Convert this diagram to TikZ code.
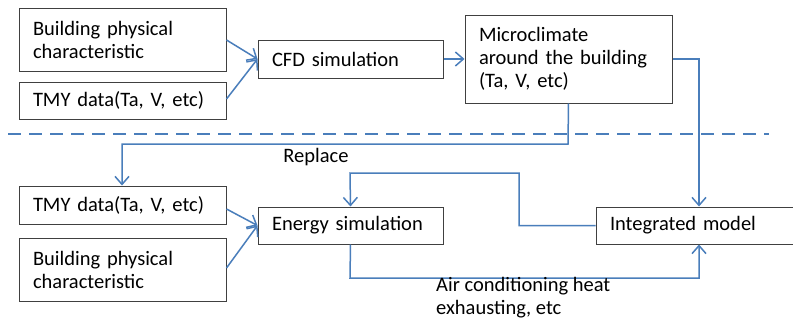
\documentclass[tikz,border=0pt]{standalone}
\usepackage{fontspec}
\setmainfont{Carlito}
\usetikzlibrary{arrows.meta}
\definecolor{lineblue}{RGB}{74,126,187}
\definecolor{boxgray}{RGB}{64,64,64}
\tikzset{
  box/.style={draw=boxgray, line width=1pt, inner xsep=14pt, inner ysep=0pt,
    align=left, font=\fontsize{20.5}{23}\selectfont, anchor=center},
  conn/.style={draw=lineblue, line width=1.5pt},
  arr/.style={conn, -{Straight Barb[length=8pt,width=14pt,line width=1.5pt]}},
  lbl/.style={font=\fontsize{20.5}{23}\selectfont, align=left, inner sep=0pt}
}
\begin{document}
\begin{tikzpicture}[x=1pt,y=-1pt]
\useasboundingbox (0,0) rectangle (793,324);
\fill[white] (0,0) rectangle (793,324);
\begin{scope}
\clip (0,0) rectangle (793,324);
% top row
\node[box, minimum width=207pt, minimum height=63pt, text width=179pt] (b1) at (122.5,39.5) {Building physical\\characteristic};
\node[box, minimum width=207pt, minimum height=37pt, text width=179pt] (t1) at (122.5,100.5) {TMY data(Ta, V, etc)};
\node[box, minimum width=185pt, minimum height=38pt, text width=157pt] (cfd) at (350.5,59) {CFD simulation};
\node[box, minimum width=207pt, minimum height=88pt, text width=179pt] (mic) at (568.5,59) {Microclimate\\around the building\\(Ta, V, etc)};
% bottom row
\node[box, minimum width=207pt, minimum height=38pt, text width=179pt] (t2) at (122.5,205) {TMY data(Ta, V, etc)};
\node[box, minimum width=207pt, minimum height=63pt, text width=179pt] (b2) at (122.5,269.5) {Building physical\\characteristic};
\node[box, minimum width=185pt, minimum height=37pt, text width=157pt] (en) at (350.5,225.5) {Energy simulation};
\node[box, minimum width=210pt, minimum height=37pt, text width=182pt] (int) at (701,225.5) {Integrated model};
\end{scope}
% dashed separator
\coordinate (dl) at (8,134);
\coordinate (dr) at (769,134);
\draw[conn, dash pattern=on 13pt off 8pt] (dl) -- (dr);
% connectors top
\draw[arr] (b1.east |- 0,40) -- (cfd.west);
\draw[arr] (t1.east |- 0,99) -- (cfd.west);
\draw[arr] (cfd.east) -- (mic.west);
% replace
\draw[arr] (mic.south) -- (568,144) -- (122,144) -- (t2.north -| 122,0);
\node[lbl] (rep) at (316,157) {Replace};
% microclimate to integrated
\draw[arr] (mic.east) -- (699,59) -- (int.north -| 699,0);
% inputs to energy simulation
\draw[arr] (t2.east |- 0,209) -- (en.west);
\draw[arr] (b2.east |- 0,268) -- (en.west);
% feedback
\draw[arr] (int.west) -- (519,225.5) -- (519,173) -- (350,173) -- (en.north);
% energy to integrated
\draw[arr] (en.south) -- (350,278) -- (699,278) -- (int.south -| 699,0);
\node[lbl, anchor=north west] (air) at (436,277) {Air conditioning heat\\exhausting, etc};
\end{tikzpicture}
\end{document}
